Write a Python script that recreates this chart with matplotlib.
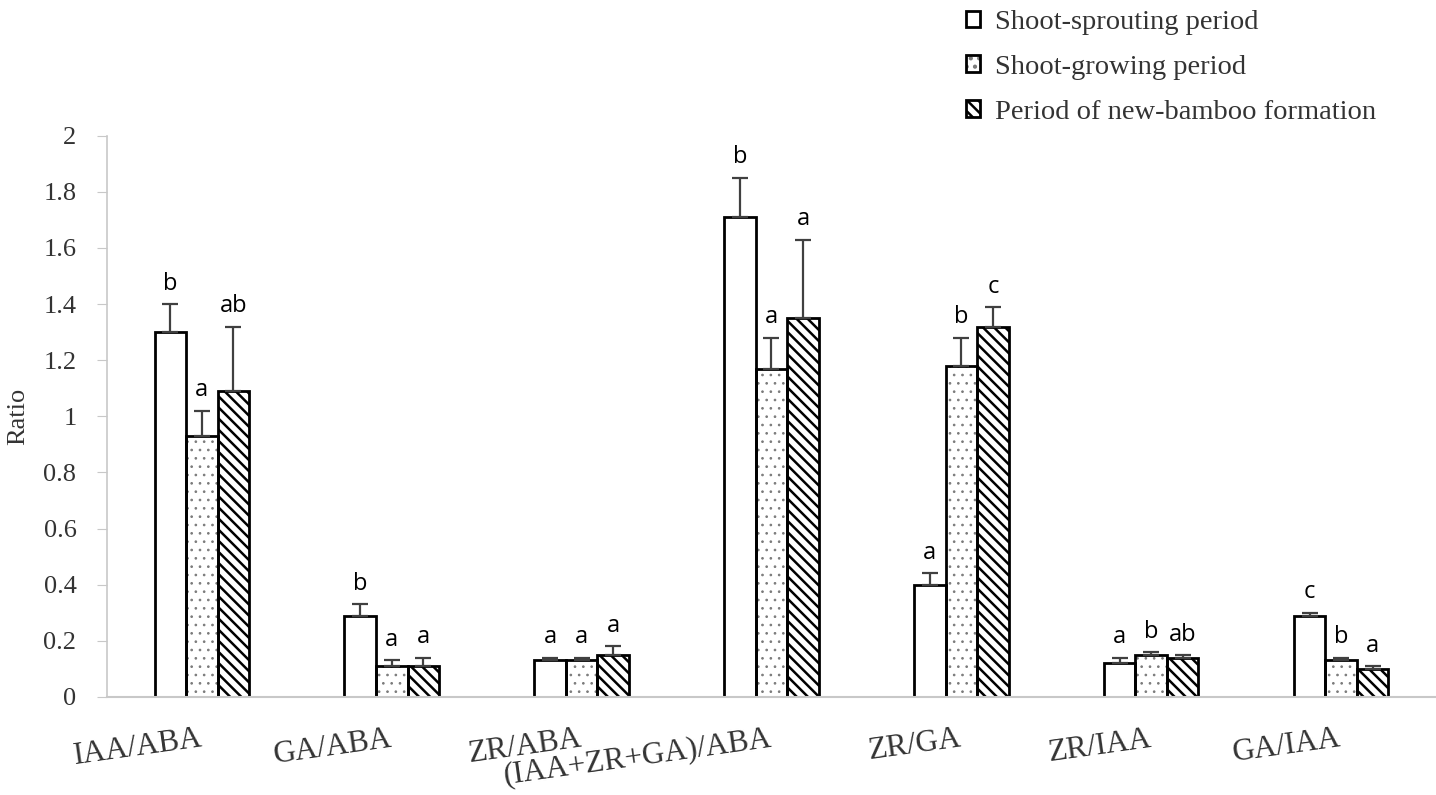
import numpy as np
import matplotlib
matplotlib.use("Agg")
import matplotlib.pyplot as plt

categories = ["IAA/ABA", "GA/ABA", "ZR/ABA", "(IAA+ZR+GA)/ABA", "ZR/GA", "ZR/IAA", "GA/IAA"]
periods = ["Shoot-sprouting period", "Shoot-growing period", "Period of new-bamboo formation"]

sprouting = [1.30, 0.29, 0.13, 1.71, 0.40, 0.12, 0.29]
growing = [0.93, 0.11, 0.13, 1.17, 1.18, 0.15, 0.13]
formation = [1.09, 0.11, 0.15, 1.35, 1.32, 0.14, 0.10]

sprouting_err = [0.10, 0.04, 0.01, 0.14, 0.04, 0.02, 0.01]
growing_err = [0.09, 0.02, 0.01, 0.11, 0.10, 0.01, 0.01]
formation_err = [0.23, 0.03, 0.03, 0.28, 0.07, 0.01, 0.01]

sprouting_sig = ["b", "b", "a", "b", "a", "a", "c"]
growing_sig = ["a", "a", "a", "a", "b", "b", "b"]
formation_sig = ["ab", "a", "a", "a", "c", "ab", "a"]

plt.rcParams["hatch.linewidth"] = 1.8
serif = "Liberation Serif"

fig = plt.figure(figsize=(14.36, 7.95), dpi=100)
ax = fig.add_axes([0.0745, 0.1233, 0.9255, 0.706])

x = np.arange(len(categories))
w = 0.166
# (values, errors, letters, hatch, hatch colour, hatch width, offset)
series = [
    (sprouting, sprouting_err, sprouting_sig, "", "black", 1.8, -w),
    (growing, growing_err, growing_sig, "..", "#7a7a7a", 0.7, 0),
    (formation, formation_err, formation_sig, "\\\\\\", "black", 1.8, w),
]
handles = []
for (vals, errs, sigs, hatch, hc, hw, off), name in zip(series, periods):
    with plt.rc_context({"hatch.linewidth": hw}):
        fill = ax.bar(x + off, vals, w, color="white", edgecolor=hc, linewidth=0,
                      hatch=hatch, zorder=2)
    for p in fill:
        if hasattr(p, "set_hatch_linewidth"):
            p.set_hatch_linewidth(hw)
    edge = ax.bar(x + off, vals, w, fill=False, edgecolor="black", linewidth=2,
                  zorder=2.5)
    handles.append((fill, edge))
    ax.errorbar(x + off, vals, yerr=[np.zeros(len(vals)), errs], fmt="none",
                ecolor="#404040", elinewidth=1.6, capsize=6, capthick=1.6, zorder=3)
    for xi, v, e, s in zip(x + off, vals, errs, sigs):
        ax.annotate(s, (xi, v + e), xytext=(0, 6), textcoords="offset points",
                    ha="center", va="bottom", fontsize=17, family="Open Sans")

ax.set_xlim(-0.5, 6.5)
ax.set_ylim(0, 2)
ax.set_yticks(np.arange(0, 2.01, 0.2))
ax.set_yticklabels(["0", "0.2", "0.4", "0.6", "0.8", "1", "1.2", "1.4", "1.6", "1.8", "2"],
                   family=serif, fontsize=19, color="#333333")
ax.tick_params(axis="y", direction="out", length=7, color="#c8c8c8", pad=15)
ax.set_xticks(x)
ax.set_xticklabels(categories, rotation=8, ha="right", va="center",
                   rotation_mode="anchor", family=serif, fontsize=22.5, color="#333333")
ax.tick_params(axis="x", length=0, pad=30)
for s in ["top", "right"]:
    ax.spines[s].set_visible(False)
ax.spines["left"].set_color("#c8c8c8")
ax.spines["left"].set_linewidth(1.2)
ax.spines["bottom"].set_color("#c8c8c8")
ax.spines["bottom"].set_linewidth(1.5)
ax.set_ylabel("Ratio", family=serif, fontsize=19, color="#333333", labelpad=10)

fig.legend(handles=handles, labels=periods, loc="upper left",
           bbox_to_anchor=(0.655, 1.02), frameon=False,
           prop={"family": serif, "size": 20.5},
           handlelength=0.5, handleheight=0.5, handletextpad=0.5,
           labelspacing=0.7, labelcolor="#333333")

fig.savefig("out.png", dpi=100)
